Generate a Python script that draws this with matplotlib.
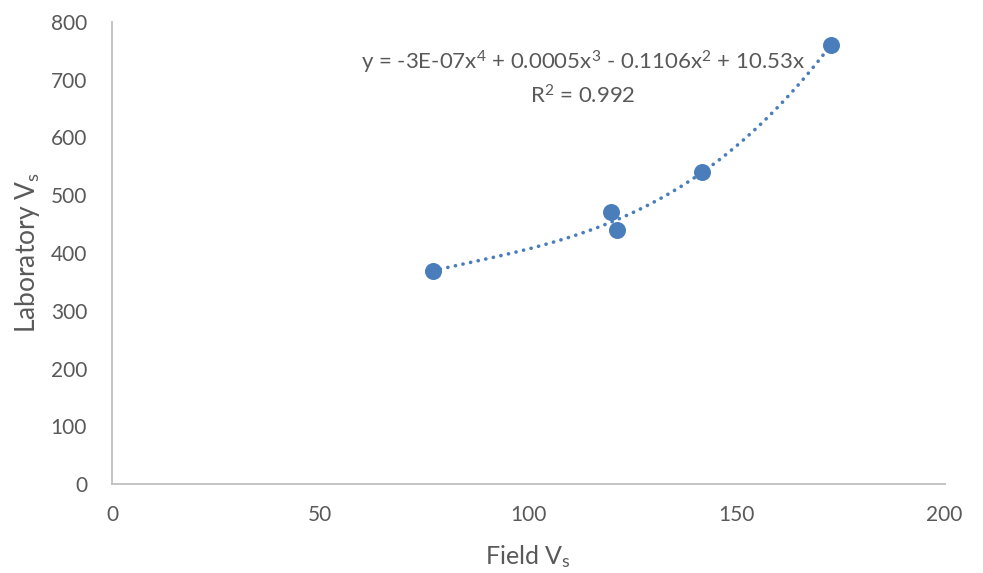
import numpy as np
import matplotlib
matplotlib.use("Agg")
import matplotlib.pyplot as plt

# values
field_vs = [77.0, 119.8, 121.4, 141.6, 172.6]
lab_vs = [369, 471, 439, 540, 759]

x_ticks = [0, 50, 100, 150, 200]
y_ticks = [0, 100, 200, 300, 400, 500, 600, 700, 800]

eq_text = "y = -3E-07x$^{4}$ + 0.0005x$^{3}$ - 0.1106x$^{2}$ + 10.53x"
r2_text = "R$^{2}$ = 0.992"

plt.rcParams['font.family'] = ['Lato', 'DejaVu Sans']
plt.rcParams['mathtext.fontset'] = 'custom'
plt.rcParams['mathtext.rm'] = 'Lato'
plt.rcParams['mathtext.it'] = 'Lato'
plt.rcParams['mathtext.default'] = 'rm'

text_col = "#595959"
blue = "#4A7EBB"

fig = plt.figure(figsize=(9.83, 5.73), dpi=100)
ax = fig.add_axes([0.114, 0.155, 0.847, 0.807])

# 4th order polynomial trendline, intercept forced to zero (like Excel)
xs = np.array(field_vs)
ys = np.array(lab_vs)
A = np.column_stack([xs**4, xs**3, xs**2, xs])
coef = np.linalg.lstsq(A, ys, rcond=None)[0]
xf = np.linspace(xs.min(), xs.max(), 200)
yf = coef[0]*xf**4 + coef[1]*xf**3 + coef[2]*xf**2 + coef[3]*xf
ax.plot(xf, yf, color=blue, lw=2.6, linestyle=(0, (0.05, 2.1)),
        dash_capstyle='round', zorder=2)

ax.scatter(field_vs, lab_vs, s=150, color=blue, zorder=3, linewidths=0)

ax.text(113, 729, eq_text, ha='center', va='center', fontsize=16, color=text_col)
ax.text(113, 672, r2_text, ha='center', va='center', fontsize=16, color=text_col)

ax.set_xlim(0, 200)
ax.set_ylim(0, 800)
ax.set_xticks(x_ticks)
ax.set_yticks(y_ticks)
ax.tick_params(length=0, labelsize=15, labelcolor=text_col)
ax.tick_params(axis='x', pad=15)
ax.tick_params(axis='y', pad=18)

for side in ['top', 'right']:
    ax.spines[side].set_visible(False)
for side in ['left', 'bottom']:
    ax.spines[side].set_color("#BFBFBF")
    ax.spines[side].set_linewidth(1.3)

ax.set_xlabel("Field V$_{s}$", fontsize=18, color=text_col, va='center')
ax.set_ylabel("Laboratory V$_{s}$", fontsize=19, color=text_col, va='center')
ax.xaxis.set_label_coords(0.5, -0.156)
ax.yaxis.set_label_coords(-0.101, 0.5)

fig.savefig("out.png", dpi=100)
